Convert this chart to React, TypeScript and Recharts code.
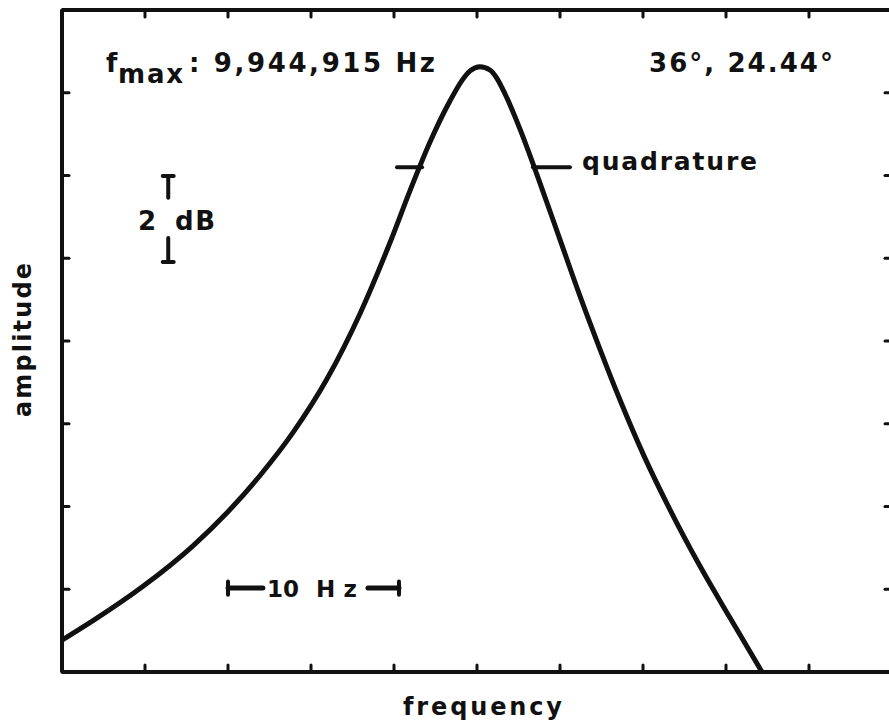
import React from 'react';
import { LineChart, Line, XAxis, YAxis, ReferenceLine } from 'recharts';

// frequency offset from f_max (Hz) and amplitude (dB above the bottom of the frame)
const freqOffsetHz = [
  -25, -23.13, -20.12, -17.11, -15.06, -13.07, -11.08, -9.04, -7.05, -5.24, -4.04, -2.83, -1.63,
  -0.9, -0.42, 0.18, 0.78, 1.2, 1.69, 2.59, 3.8, 5.0, 6.2, 7.41, 8.61, 10.12, 11.63, 13.43,
  15.24, 17.17,
];
const amplitudeDb = [
  0.77, 1.24, 2.07, 3.05, 3.85, 4.75, 5.79, 7.08, 8.66, 10.38, 11.63, 12.81, 13.8,
  14.3, 14.53, 14.63, 14.55, 14.35, 13.97, 13.12, 11.81, 10.45, 9.09, 7.8, 6.58, 5.17, 3.92, 2.56,
  1.31, 0,
];
const freqTicks = [-25, -20, -15, -10, -5, 0, 5, 10, 15, 20, 25];
const dbTicks = [0, 2, 4, 6, 8, 10, 12, 14, 16];

// annotation marks (data space)
const quadratureDb = 12.2;
const quadLeftHz = [-4.82, -3.31];
const quadRightHz = [3.37, 5.6];
const scaleBarDb = 2.03;
const scaleBarLeftHz = [-15.0, -12.9];
const scaleBarRightHz = [-6.57, -4.7];
const dbMarkerHz = -18.6;
const dbMarkerTop = [11.99, 11.46];
const dbMarkerBottom = [10.49, 9.91];

const chartData = freqOffsetHz.map((f, i) => ({ f, amp: amplitudeDb[i] }));

const ink = '#111';
const font = '"DejaVu Sans", sans-serif';
const noLabel = () => <g />;

const axisStyle = {
  axisLine: { stroke: ink, strokeWidth: 4 },
  tickLine: { stroke: ink, strokeWidth: 3, strokeLinecap: 'round' as const },
  tickSize: 7,
  tick: noLabel,
  mirror: true,
  interval: 0 as const,
};

const seg = (x1: number, y1: number, x2: number, y2: number, key: string, w = 4) => (
  <ReferenceLine
    key={key}
    xAxisId="bottom"
    yAxisId="left"
    segment={[{ x: x1, y: y1 }, { x: x2, y: y2 }]}
    stroke={ink}
    strokeWidth={w}
    strokeLinecap="round"
    ifOverflow="visible"
  />
);

export default function App() {
  const bar = 0.33;
  const cap = 0.16;
  return (
    <div style={{ position: 'fixed', left: 0, top: 0, width: 889, height: 725, overflow: 'hidden', background: '#fff' }}>
      <LineChart width={900} height={725} data={chartData} margin={{ top: 10, right: 8, bottom: 53, left: 62 }}>
        <XAxis xAxisId="bottom" dataKey="f" type="number" domain={[-25, 25]} ticks={freqTicks} orientation="bottom" allowDataOverflow {...axisStyle} />
        <XAxis xAxisId="top" dataKey="f" type="number" domain={[-25, 25]} ticks={freqTicks} orientation="top" allowDataOverflow {...axisStyle} />
        <YAxis yAxisId="left" type="number" domain={[0, 16]} ticks={dbTicks} orientation="left" allowDataOverflow {...axisStyle} />
        <YAxis yAxisId="right" type="number" domain={[0, 16]} ticks={dbTicks} orientation="right" allowDataOverflow {...axisStyle} />
        <Line
          xAxisId="bottom"
          yAxisId="left"
          type="monotone"
          dataKey="amp"
          stroke={ink}
          strokeWidth={5}
          strokeLinejoin="round"
          dot={false}
          activeDot={false}
          isAnimationActive={false}
        />
        {seg(quadLeftHz[0], quadratureDb, quadLeftHz[1], quadratureDb, 'ql', 4)}
        {seg(quadRightHz[0], quadratureDb, quadRightHz[1], quadratureDb, 'qr', 4)}
        {seg(scaleBarLeftHz[0], scaleBarDb, scaleBarLeftHz[1], scaleBarDb, 'sl', 5)}
        {seg(scaleBarRightHz[0], scaleBarDb, scaleBarRightHz[1], scaleBarDb, 'sr', 5)}
        {seg(scaleBarLeftHz[0], scaleBarDb - cap, scaleBarLeftHz[0], scaleBarDb + cap, 'slc', 4)}
        {seg(scaleBarRightHz[1], scaleBarDb - cap, scaleBarRightHz[1], scaleBarDb + cap, 'src', 4)}
        {seg(dbMarkerHz, dbMarkerTop[0], dbMarkerHz, dbMarkerTop[1], 'dt', 4)}
        {seg(dbMarkerHz - bar, dbMarkerTop[0], dbMarkerHz + bar, dbMarkerTop[0], 'dtb', 4)}
        {seg(dbMarkerHz, dbMarkerBottom[0], dbMarkerHz, dbMarkerBottom[1], 'db', 4)}
        {seg(dbMarkerHz - bar, dbMarkerBottom[1], dbMarkerHz + bar, dbMarkerBottom[1], 'dbb', 4)}
      </LineChart>
      <svg
        width={889}
        height={725}
        style={{ position: 'absolute', left: 0, top: 0, pointerEvents: 'none' }}
        fontFamily={font}
        fontWeight="bold"
        fill={ink}
      >
        <text x={106} y={72} fontSize={26}>f</text>
        <text x={118} y={83} fontSize={26} textLength={65} lengthAdjust="spacing">max</text>
        <text x={189} y={72} fontSize={26} textLength={246} lengthAdjust="spacing">: 9,944,915 Hz</text>
        <text x={649} y={72} fontSize={26} textLength={184} lengthAdjust="spacing">36°, 24.44°</text>
        <text x={582} y={170} fontSize={25} textLength={175} lengthAdjust="spacing">quadrature</text>
        <text x={138} y={230} fontSize={26}>2</text>
        <text x={175} y={230} fontSize={26} textLength={40} lengthAdjust="spacing">dB</text>
        <text x={267} y={597} fontSize={23} textLength={32} lengthAdjust="spacing">10</text>
        <text x={316} y={597} fontSize={23} textLength={41} lengthAdjust="spacing">Hz</text>
        <text x={403} y={715} fontSize={24} textLength={159} lengthAdjust="spacing">frequency</text>
        <text x={31} y={417} fontSize={24} transform="rotate(-90 31 417)" textLength={154} lengthAdjust="spacing">amplitude</text>
      </svg>
    </div>
  );
}
